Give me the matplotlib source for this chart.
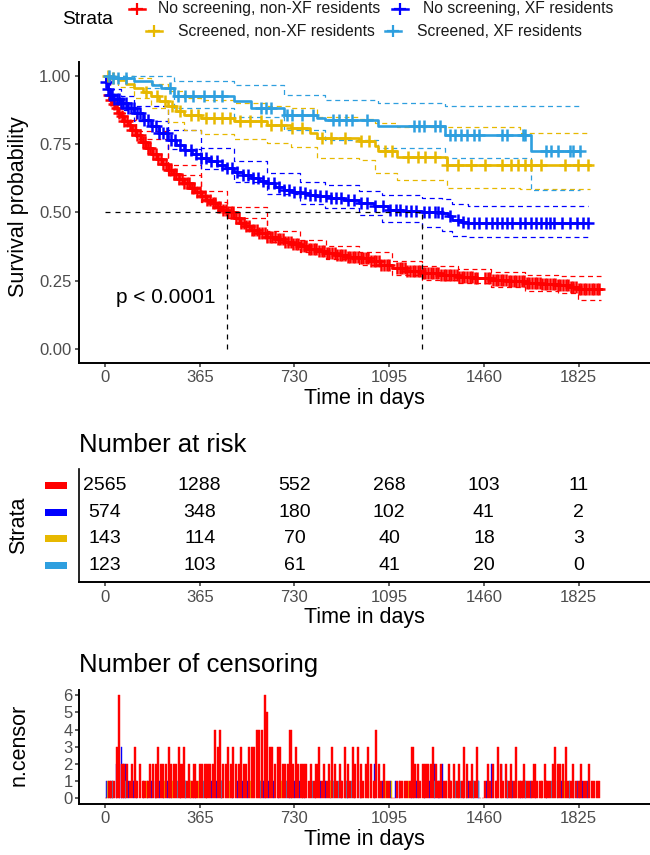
import numpy as np
import matplotlib
matplotlib.use("Agg")
import matplotlib.pyplot as plt
from matplotlib.lines import Line2D
from matplotlib.patches import Rectangle
import matplotlib.transforms as mtransforms

plt.rcParams['font.family'] = ['Liberation Sans', 'DejaVu Sans']

# ---------------- data ----------------
strata = ["No screening, non-XF residents", "No screening, XF residents",
          "Screened, non-XF residents", "Screened, XF residents"]
colors = ["#FF0000", "#0000FF", "#E7B800", "#2E9FDF"]

# Kaplan-Meier step estimates (time in days, survival)
red_t = [0, 3, 8, 14, 20, 28, 38, 50, 61, 75, 90, 105, 120, 140, 160, 180, 200, 220, 241, 262,
         284, 305, 326, 348, 369, 390, 412, 433, 452, 471, 497, 520, 541, 561, 590, 625, 657, 689,
         720, 753, 785, 817, 850, 890, 935, 977, 1020, 1060, 1105, 1160, 1220, 1290, 1361, 1425,
         1489, 1555, 1617, 1680, 1745, 1790, 1822, 1910]
red_s = [1.0, 0.975, 0.95, 0.93, 0.91, 0.895, 0.88, 0.865, 0.851, 0.835, 0.818, 0.80, 0.782, 0.758,
         0.737, 0.714, 0.695, 0.675, 0.656, 0.64, 0.623, 0.607, 0.59, 0.574, 0.558, 0.545, 0.533,
         0.521, 0.51, 0.5, 0.479, 0.462, 0.449, 0.436, 0.424, 0.411, 0.402, 0.393, 0.384, 0.375,
         0.366, 0.358, 0.352, 0.344, 0.338, 0.332, 0.32, 0.307, 0.296, 0.286, 0.277, 0.271, 0.265,
         0.259, 0.253, 0.247, 0.241, 0.237, 0.234, 0.228, 0.219, 0.219]
red_ci_t = [0, 20, 61, 120, 241, 369, 471, 625, 753, 850, 977, 1105, 1220, 1361, 1489, 1617, 1745, 1822, 1910]
red_ci_hi = [1.0, 0.92, 0.865, 0.797, 0.674, 0.578, 0.52, 0.432, 0.397, 0.375, 0.356, 0.32, 0.302,
             0.291, 0.28, 0.27, 0.267, 0.267, 0.267]
red_ci_lo = [1.0, 0.90, 0.837, 0.767, 0.638, 0.538, 0.48, 0.39, 0.353, 0.33, 0.308, 0.272, 0.252,
             0.24, 0.227, 0.213, 0.205, 0.18, 0.18]

blue_t = [0, 4, 10, 18, 30, 61, 85, 113, 145, 177, 210, 241, 272, 305, 337, 369, 400, 433, 465, 497,
          530, 561, 593, 625, 657, 689, 720, 753, 785, 817, 870, 920, 977, 1035, 1091, 1150, 1220,
          1297, 1320, 1336, 1370, 1400, 1860]
blue_s = [1.0, 0.975, 0.95, 0.93, 0.915, 0.90, 0.882, 0.863, 0.838, 0.814, 0.79, 0.766, 0.748, 0.729,
          0.713, 0.698, 0.686, 0.674, 0.661, 0.649, 0.637, 0.625, 0.616, 0.607, 0.594, 0.582, 0.576,
          0.570, 0.564, 0.558, 0.552, 0.545, 0.534, 0.522, 0.509, 0.505, 0.50, 0.497, 0.485, 0.473,
          0.466, 0.46, 0.46]
blue_ci_t = [0, 18, 61, 113, 241, 369, 497, 625, 753, 849, 977, 1069, 1220, 1297, 1336, 1400, 1860]
blue_ci_hi = [1.0, 0.95, 0.925, 0.89, 0.80, 0.735, 0.688, 0.645, 0.61, 0.60, 0.578, 0.564, 0.552,
              0.55, 0.531, 0.524, 0.524]
blue_ci_lo = [1.0, 0.91, 0.875, 0.835, 0.73, 0.66, 0.61, 0.568, 0.53, 0.515, 0.49, 0.466, 0.447,
              0.43, 0.415, 0.409, 0.409]

yel_t = [0, 20, 49, 80, 113, 145, 177, 210, 241, 272, 305, 369, 497, 625, 715, 790, 817, 977, 1041,
         1052, 1124, 1316, 1867]
yel_s = [1.0, 0.993, 0.985, 0.97, 0.955, 0.94, 0.924, 0.906, 0.888, 0.872, 0.857, 0.845, 0.833, 0.82,
         0.808, 0.79, 0.772, 0.76, 0.741, 0.723, 0.704, 0.674, 0.674]
yel_ci_t = [0, 49, 113, 177, 241, 305, 369, 497, 625, 715, 817, 977, 1041, 1124, 1316, 1600, 1867]
yel_ci_hi = [1.0, 1.0, 0.99, 0.97, 0.945, 0.92, 0.91, 0.90, 0.89, 0.88, 0.85, 0.84, 0.825, 0.812,
             0.812, 0.79, 0.79]
yel_ci_lo = [1.0, 0.96, 0.92, 0.88, 0.83, 0.80, 0.785, 0.77, 0.755, 0.74, 0.70, 0.69, 0.644, 0.62,
             0.589, 0.584, 0.584]

lb_t = [0, 30, 113, 180, 215, 265, 497, 561, 689, 817, 849, 1052, 1310, 1643, 1829]
lb_s = [1.0, 0.99, 0.979, 0.967, 0.955, 0.924, 0.906, 0.882, 0.857, 0.845, 0.839, 0.817, 0.784,
        0.723, 0.723]
lb_ci_t = [0, 113, 265, 497, 689, 849, 1052, 1310, 1643, 1829]
lb_ci_hi = [1.0, 1.0, 0.98, 0.965, 0.93, 0.912, 0.90, 0.89, 0.89, 0.89]
lb_ci_lo = [1.0, 0.955, 0.88, 0.85, 0.80, 0.766, 0.735, 0.698, 0.58, 0.58]

medians = [471, 1220]
pval_label = "p < 0.0001"

# censoring: red read per 10-day slot (max bar height in slot)
red_censor_slot_days = 10
red_censor_counts = [0, 1, 1, 1, 3, 6, 2, 2, 2, 1,
                     2, 3, 1, 2, 1, 1, 1, 2, 2, 2,
                     3, 2, 2, 2, 3, 2, 2, 2, 3, 2,
                     3, 1, 2, 1, 2, 1, 2, 2, 2, 2,
                     2, 2, 4, 3, 4, 2, 2, 3, 2, 3,
                     2, 2, 3, 2, 2, 3, 3, 3, 4, 4,
                     4, 6, 5, 3, 3, 2, 3, 3, 2, 2,
                     2, 4, 2, 3, 2, 2, 2, 2, 1, 2,
                     1, 2, 3, 1, 2, 1, 2, 3, 2, 1,
                     2, 1, 3, 2, 1, 3, 2, 3, 2, 1,
                     2, 3, 2, 1, 4, 2, 1, 2, 1, 1,
                     0, 0, 1, 1, 1, 1, 1, 1, 3, 2,
                     2, 1, 2, 2, 2, 2, 3, 2, 1, 2,
                     1, 1, 2, 1, 2, 1, 2, 1, 3, 2,
                     1, 2, 1, 3, 0, 0, 1, 2, 1, 2,
                     1, 3, 2, 1, 2, 1, 2, 1, 3, 1,
                     1, 2, 1, 1, 1, 2, 1, 1, 1, 2,
                     1, 1, 2, 3, 2, 2, 2, 3, 1, 1,
                     2, 1, 1, 2, 1, 1, 2, 1, 1, 1,
                     1]
blue_censor_t = [5, 12, 20, 28, 35, 45, 55, 63, 70, 80, 90, 100, 110, 122, 135, 150, 165, 180, 195,
                 210, 225, 240, 255, 270, 290, 310, 330, 350, 370, 390, 410, 430, 450, 470, 490, 510,
                 530, 550, 570, 590, 610, 630, 650, 670, 690, 710, 730, 750, 770, 790, 810, 830, 850,
                 870, 890, 910, 935, 960, 985, 1010, 1040, 1070, 1100, 1120, 1135, 1160, 1180, 1200,
                 1230, 1250, 1270, 1285, 1300, 1330, 1360, 1380, 1400, 1420, 1440, 1470, 1490, 1510,
                 1530, 1550, 1570, 1600, 1620, 1640, 1660, 1680, 1700, 1715, 1730, 1760, 1790, 1820,
                 1840, 1860]
blue_censor_n = [1, 1, 1, 1, 1, 2, 2, 3, 2, 2, 1, 1, 1, 1, 1, 1, 1, 1, 1,
                 1, 1, 1, 1, 1, 1, 1, 1, 1, 1, 1, 1, 1, 1, 1, 1, 1,
                 1, 1, 1, 1, 1, 1, 1, 1, 1, 1, 1, 1, 1, 1, 1, 1, 1,
                 1, 1, 1, 1, 1, 1, 1, 2, 1, 1, 1, 1, 1, 1, 1,
                 1, 1, 2, 1, 2, 1, 1, 1, 1, 1, 1, 1, 2, 1,
                 2, 1, 1, 1, 1, 1, 1, 1, 1, 1, 1, 1, 1, 1,
                 1, 1]
yel_censor_t = [10, 30, 160, 200, 230, 260, 290, 330, 360, 390, 420, 450, 480, 520, 560, 600, 640,
                680, 720, 760, 836, 870, 926, 987, 1016, 1080, 1105, 1169, 1208, 1233, 1272, 1317,
                1361, 1412, 1464, 1528, 1566, 1592, 1618, 1643, 1681, 1772, 1823, 1861]
yel_censor_n = [1] * 44
lb_censor_t = [15, 30, 50, 80, 250, 280, 310, 340, 380, 420, 450, 600, 620, 640, 700, 720, 760, 800,
               880, 900, 930, 950, 1010, 1190, 1210, 1230, 1270, 1290, 1330, 1350, 1370, 1394, 1420,
               1440, 1530, 1550, 1610, 1620, 1700, 1720, 1745, 1790, 1805, 1829]
lb_censor_n = [1] * 44

risk_times = [0, 365, 730, 1095, 1460, 1825]
risk_red = [2565, 1288, 552, 268, 103, 11]
risk_blue = [574, 348, 180, 102, 41, 2]
risk_yel = [143, 114, 70, 40, 18, 3]
risk_lb = [123, 103, 61, 41, 20, 0]

x_ticks = [0, 365, 730, 1095, 1460, 1825]
y_ticks = [0.0, 0.25, 0.5, 0.75, 1.0]

# ---------------- figure ----------------
W, H = 650, 855
fig = plt.figure(figsize=(W / 100, H / 100), dpi=100)


def rect(left, top, right, bottom):
    return [left / W, 1 - bottom / H, (right - left) / W, (bottom - top) / H]


def style(ax):
    for s in ['top', 'right']:
        ax.spines[s].set_visible(False)
    for s in ['left', 'bottom']:
        ax.spines[s].set_linewidth(1.4)
        ax.spines[s].set_color('black')
    ax.tick_params(length=3, width=1.1, color='#333333', labelcolor='#4D4D4D', labelsize=12, pad=2.5)
    ax.set_xlim(-100, 2100)
    ax.set_xticks(x_ticks)


XLAB = dict(fontsize=15.5, color='black')

# ---- main KM plot ----
ax1 = fig.add_axes(rect(79, 62, 650, 362.6))
style(ax1)
ax1.set_ylim(-0.05, 1.05)
ax1.set_yticks(y_ticks)
ax1.set_yticklabels(["%.2f" % v for v in y_ticks])

curves = [
    (red_t, red_s, red_ci_t, red_ci_lo, red_ci_hi, None),
    (blue_t, blue_s, blue_ci_t, blue_ci_lo, blue_ci_hi, blue_censor_t),
    (yel_t, yel_s, yel_ci_t, yel_ci_lo, yel_ci_hi, yel_censor_t),
    (lb_t, lb_s, lb_ci_t, lb_ci_lo, lb_ci_hi, lb_censor_t),
]
red_slot_t = [red_censor_slot_days * i + red_censor_slot_days / 2 for i in range(len(red_censor_counts))]
red_mark_t = [t for t, n in zip(red_slot_t, red_censor_counts) if n > 0]

for i, (t, s, ct, clo, chi, cens_t) in enumerate(curves):
    c = colors[i]
    ax1.step(ct, chi, where='post', color=c, lw=0.9, ls=(0, (4, 3)), zorder=2)
    ax1.step(ct, clo, where='post', color=c, lw=0.9, ls=(0, (4, 3)), zorder=2)
    ax1.step(t, s, where='post', color=c, lw=1.9, zorder=3)
    marks = red_mark_t if i == 0 else cens_t
    idx = np.searchsorted(np.array(t), np.array(marks), side='right') - 1
    ax1.plot(marks, np.array(s)[idx], ls='none', marker='+', ms=9, mew=1.8, color=c, zorder=4)

# median lines
ax1.plot([0, max(medians)], [0.5, 0.5], color='black', lw=0.9, ls=(0, (4, 4)), zorder=5)
for m in medians:
    ax1.plot([m, m], [0, 0.5], color='black', lw=0.9, ls=(0, (4, 4)), zorder=5)

ax1.text(42, 0.19, pval_label, fontsize=15, ha='left', va='center', color='black')
ax1.set_xlabel("Time in days", labelpad=2, **XLAB)
fig.text(19 / W, 1 - 207 / H, "Survival probability", rotation=90, ha='center', va='center', **XLAB)

# legend
fig.text(62 / W, 1 - 19 / H, "Strata", fontsize=13.8, ha='left', va='center')
leg = [(137, 9, 158), (400, 9, 423), (154, 31, 178), (393, 31, 417)]
for i, (kx, ky, tx) in enumerate(leg):
    yy = 1 - ky / H
    fig.add_artist(Line2D([(kx - 8) / W, (kx + 8) / W], [yy, yy], transform=fig.transFigure,
                          color=colors[i], lw=1.8))
    fig.add_artist(Line2D([kx / W], [yy], transform=fig.transFigure, marker='+', ms=9, mew=1.6,
                          color=colors[i], ls='none'))
    fig.text(tx / W, yy, strata[i], fontsize=11.3, ha='left', va='center', color='#1a1a1a')

# ---- risk table ----
ax2 = fig.add_axes(rect(79, 469, 650, 582))
style(ax2)
ax2.set_ylim(0.4, 4.6)
ax2.set_yticks([])
ax2.spines['left'].set_linewidth(1.2)
risk_rows = [risk_red, risk_blue, risk_yel, risk_lb]
tr = mtransforms.blended_transform_factory(fig.transFigure, ax2.transData)
for i, row in enumerate(risk_rows):
    ylev = 4 - i
    for t, v in zip(risk_times, row):
        ax2.text(t, ylev, str(v), ha='center', va='center', fontsize=14, color='black')
    fig.add_artist(Rectangle((45 / W, ylev - 0.13), 22 / W, 0.26, transform=tr,
                             facecolor=colors[i], edgecolor='none'))
ax2.set_xlabel("Time in days", labelpad=2, **XLAB)
fig.text(79 / W, 1 - 445 / H, "Number at risk", fontsize=18.5, ha='left', va='center')
fig.text(19 / W, 1 - 525 / H, "Strata", rotation=90, ha='center', va='center', **XLAB)

# ---- censoring plot ----
ax3 = fig.add_axes(rect(79, 690, 650, 803.5))
style(ax3)
ax3.set_ylim(-0.3, 6.3)
ax3.set_yticks(range(0, 7))
ax3.tick_params(axis='y', labelsize=12, pad=1.5)
for i, (ct, cn) in enumerate([(blue_censor_t, blue_censor_n), (yel_censor_t, yel_censor_n),
                              (lb_censor_t, lb_censor_n)], start=1):
    ax3.bar(ct, cn, width=3, color=colors[i], edgecolor=colors[i], linewidth=0.3, zorder=2)
ax3.bar(red_slot_t, red_censor_counts, width=8, color=colors[0], edgecolor=colors[0],
        linewidth=0.3, zorder=3)
ax3.set_xlabel("Time in days", labelpad=2, **XLAB)
fig.text(79 / W, 1 - 665 / H, "Number of censoring", fontsize=18.5, ha='left', va='center')
fig.text(19 / W, 1 - 745 / H, "n.censor", rotation=90, ha='center', va='center', **XLAB)

fig.savefig("out.png", dpi=100)
